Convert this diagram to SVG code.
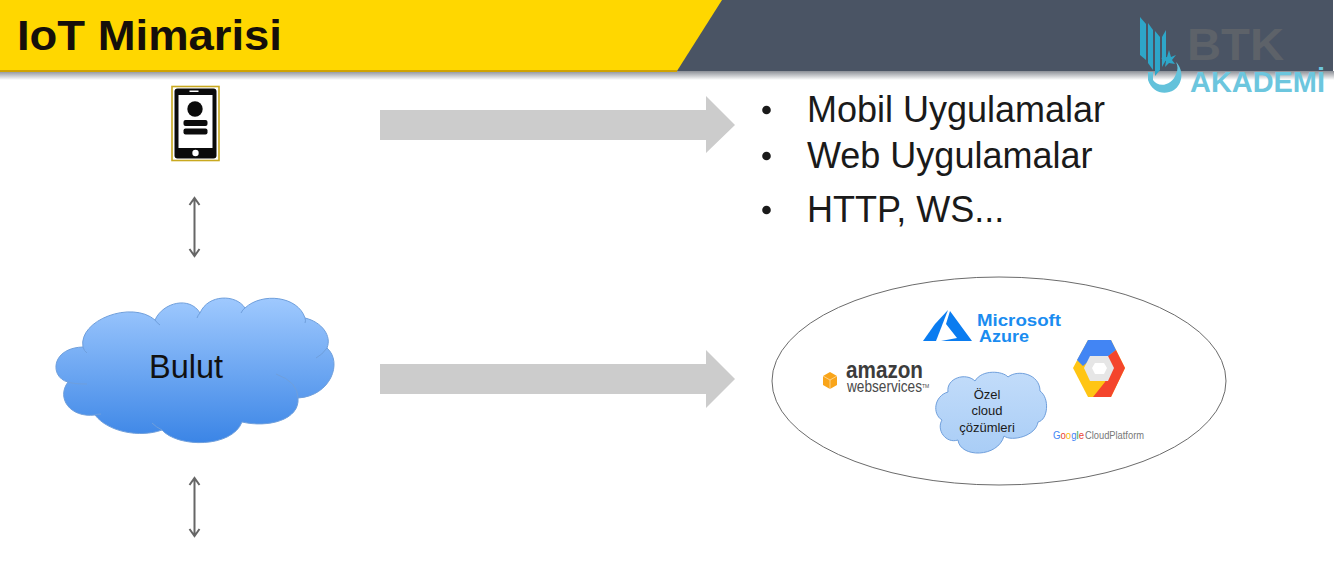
<svg xmlns="http://www.w3.org/2000/svg" width="1334" height="566" viewBox="0 0 1334 566">
<style>
text{font-family:"Liberation Sans",Arial,sans-serif}
.bul{font-size:36px;fill:#1a1a1a}
.big{fill:#cccccc}
.dbl{stroke:#666;stroke-width:2;fill:none;stroke-linejoin:miter}
.cl{stroke:#6f9fdc;stroke-width:1}
.crease{fill:none;stroke:#6f9fdc;stroke-width:1}
</style>
<defs>
<linearGradient id="g1" x1="0" y1="0" x2="0" y2="1"><stop offset="0" stop-color="#9fc9fe"/><stop offset="1" stop-color="#3b85e6"/></linearGradient>
<linearGradient id="g2" x1="0" y1="0" x2="0" y2="1"><stop offset="0" stop-color="#c2dcfa"/><stop offset="1" stop-color="#a9cdf6"/></linearGradient>
<linearGradient id="sh" x1="0" y1="0" x2="0" y2="1"><stop offset="0" stop-color="#8b8f96"/><stop offset="1" stop-color="#ffffff"/></linearGradient>
</defs>
<rect width="1334" height="566" fill="#ffffff"/>
<g id="header">
<rect x="0" y="71" width="1334" height="9" fill="url(#sh)"/>
<rect x="0" y="0" width="1333" height="71" fill="#4a5464"/>
<polygon points="0,0 722,0 677,71 0,71" fill="#ffd700"/>
<rect x="0" y="70" width="677" height="2" fill="#d0a300"/>
<text x="17" y="50" font-size="43" font-weight="700" fill="#150f0a" textLength="265" lengthAdjust="spacingAndGlyphs">IoT Mimarisi</text>
</g>
<g id="logo">
<text x="1187" y="60" font-size="44" font-weight="700" fill="#5d6269" textLength="97" lengthAdjust="spacingAndGlyphs">BTK</text>
<text x="1190" y="92" font-size="29" font-weight="700" fill="#6cc6de" textLength="135" lengthAdjust="spacingAndGlyphs">AKADEMİ</text>
<polygon points="1140,17 1146,24 1146,60 1140,55" fill="#2ea6c8"/>
<polygon points="1148,23 1153,30 1153,70 1148,63" fill="#2ea6c8"/>
<polygon points="1155,31 1160,37 1160,70 1155,76" fill="#2ea6c8"/>
<polygon points="1162,37 1166,30 1166,60 1162,67" fill="#2ea6c8"/>
<polygon points="1169,50 1171,57 1176,55 1172,60 1175,64 1169,63 1165,67 1166,61 1161,58 1167,57" fill="#2ea6c8"/>
<path d="M1148 72 L1153 72 V80 C1158 88 1172 86 1176 74 C1178 70 1178 66 1176 62 C1184 70 1183 84 1174 90 C1164 96 1152 92 1148 80Z" fill="#63c2db"/>
</g>
<g id="phone">
<rect x="172" y="86.500" width="47" height="74" fill="#fff" stroke="#c9a91f" stroke-width="1.600"/>
<rect x="174.500" y="88.500" width="42" height="70" rx="3" fill="#0b0b0b"/>
<rect x="178.500" y="95" width="34" height="53" fill="#ffffff"/>
<circle cx="195" cy="109" r="7.700" fill="#0b0b0b"/>
<rect x="183.500" y="120" width="24" height="6" rx="2" fill="#0b0b0b"/>
<rect x="183.500" y="128.500" width="24" height="6" rx="2" fill="#0b0b0b"/>
<circle cx="195.500" cy="153" r="3.200" fill="#fff"/>
<rect x="189.500" y="90.500" width="9" height="1.500" fill="#fff"/>
</g>
<g id="connectors">
<polygon class="big" points="380,110 706,110 706,96 735,125 706,153 706,140 380,140"/>
<polygon class="big" points="380,364 706,364 706,350 735,379 706,408 706,394 380,394"/>
<path class="dbl" d="M194.500 198V256M189.500 205L194.500 198L199.500 205M189.500 249L194.500 256L199.500 249"/>
<path class="dbl" d="M194.500 478V536M189.500 485L194.500 478L199.500 485M189.500 529L194.500 536L199.500 529"/>
</g>
<g id="bullets">
<circle cx="766.500" cy="110" r="4.300" fill="#1a1a1a"/>
<circle cx="766.500" cy="156" r="4.300" fill="#1a1a1a"/>
<circle cx="766.500" cy="210" r="4.300" fill="#1a1a1a"/>
<text class="bul" x="807" y="122">Mobil Uygulamalar</text>
<text class="bul" x="807" y="168">Web Uygulamalar</text>
<text class="bul" x="807" y="222">HTTP, WS...</text>
</g>
<g id="bulut">
<path class="cl" fill="url(#g1)" d="M83 347C78 320 132 300 155 320C163 302 190 296 200 313C208 294 236 294 245 308C262 292 298 296 305 318C322 322 332 336 327 348C343 362 331 396 298 398C300 420 268 428 242 422C232 448 178 448 162 430C140 438 108 432 95 415C70 418 56 398 68 382C50 378 50 348 83 347Z"/>
<path class="crease" d="M83 347Q84 351 87 353M155 320Q157 323 160 325M200 313Q198 315 197 318M245 308Q243 309 241 313M305 318Q306 321 305 323M327 348Q322 355 316 358M298 398Q298 382 276 374M162 430Q156 427 152 423M95 415Q97 414 101 414M68 382Q73 384 87 384"/>
<text x="186" y="378" font-size="32.500" text-anchor="middle" fill="#111">Bulut</text>
</g>
<g id="cloud-pool">
<ellipse cx="999" cy="381" rx="227" ry="104" fill="none" stroke="#6b6b6b" stroke-width="1"/>
</g>
<g id="azure">
<polygon points="948,310 935,324 923,341 936,341" fill="#0a7cf0"/>
<polygon points="950,311 972,341 941,341 957,338 946,324" fill="#0a7cf0"/>
<text x="977" y="326" font-size="16" font-weight="700" fill="#1a8cf0" textLength="84" lengthAdjust="spacingAndGlyphs">Microsoft</text>
<text x="979" y="342" font-size="16" font-weight="700" fill="#1a8cf0" textLength="50" lengthAdjust="spacingAndGlyphs">Azure</text>
</g>
<g id="aws">
<polygon points="830,372 837,376 837,385 830,389 823,385 823,376" fill="#f9a51a"/>
<path d="M823 376L830 380L837 376M830 380V389" fill="none" stroke="#ffffff" stroke-width="0.500"/>
<text x="846" y="378" font-size="23" font-weight="700" fill="#3c3c3c" textLength="77" lengthAdjust="spacingAndGlyphs">amazon</text>
<text x="847" y="392" font-size="17" fill="#4a4a4a" textLength="75" lengthAdjust="spacingAndGlyphs">webservices</text>
<text x="922" y="388" font-size="5" fill="#4a4a4a">TM</text>
</g>
<g id="ozel">
<path class="cl" fill="url(#g2)" stroke="#83a8d8" d="M948 392C946 378 966 372 975 381C982 369 1003 371 1008 377C1018 369 1040 374 1040 391C1050 398 1048 420 1038 422C1036 436 1012 442 1004 436C998 458 960 458 958 440C946 444 936 430 942 420C932 414 934 396 948 392Z"/>
<text text-anchor="middle" font-size="13" fill="#1a1a1a"><tspan x="987" y="399">Özel</tspan><tspan x="987" y="415">cloud</tspan><tspan x="987" y="432">çözümleri</tspan></text>
</g>
<g id="gcp">
<polygon points="1088,340 1111,340 1125,368 1111,397 1088,397 1073,368" fill="#ffc514"/>
<polygon points="1088,340 1111,340 1116,350 1106,358 1092,358 1083,366 1077,360" fill="#4285f4"/>
<polygon points="1107,357 1116,350 1125,368 1111,397 1102,397 1093,397 1105,382 1110,368" fill="#f4452c"/>
<polygon points="1090,356 1108,356 1114,368 1108,381 1090,381 1084,368" fill="#e6e6e6"/>
<polygon points="1095,363 1104,363 1107,368 1104,374 1095,374 1092,368" fill="#ffffff"/>
<text x="1053" y="439" font-size="11" textLength="31" lengthAdjust="spacingAndGlyphs"><tspan fill="#4285f4">G</tspan><tspan fill="#ea4335">o</tspan><tspan fill="#fbbc05">o</tspan><tspan fill="#4285f4">g</tspan><tspan fill="#34a853">l</tspan><tspan fill="#ea4335">e</tspan></text>
<text x="1085" y="439" font-size="11" fill="#777" textLength="59" lengthAdjust="spacingAndGlyphs">CloudPlatform</text>
</g>
</svg>
